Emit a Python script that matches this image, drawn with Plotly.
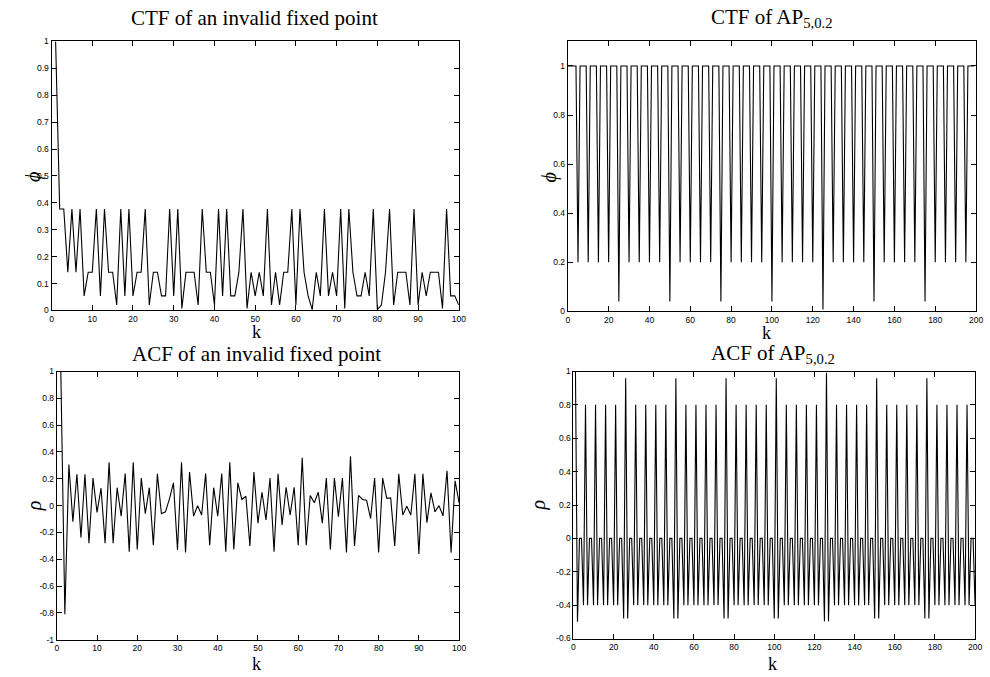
import plotly.graph_objects as go

W, H = 990, 677

# ---------------- data ----------------
# CTF of an invalid fixed point, k = 1..100
ctf_fp_k = list(range(1, 101))
ctf_fp = [
    1.0, 0.377, 0.377, 0.142, 0.377, 0.142, 0.377, 0.054, 0.142, 0.142,
    0.377, 0.054, 0.377, 0.142, 0.142, 0.020, 0.377, 0.054, 0.377, 0.054,
    0.142, 0.142, 0.377, 0.020, 0.142, 0.142, 0.054, 0.054, 0.377, 0.054,
    0.377, 0.0076, 0.142, 0.142, 0.142, 0.020, 0.377, 0.142, 0.142, 0.020,
    0.377, 0.054, 0.377, 0.054, 0.054, 0.142, 0.377, 0.0076, 0.142, 0.054,
    0.142, 0.054, 0.377, 0.020, 0.142, 0.020, 0.142, 0.142, 0.377, 0.020,
    0.377, 0.142, 0.054, 0.003, 0.142, 0.054, 0.377, 0.054, 0.142, 0.054,
    0.377, 0.0076, 0.377, 0.142, 0.054, 0.054, 0.142, 0.054, 0.377, 0.003,
    0.020, 0.142, 0.377, 0.020, 0.142, 0.142, 0.142, 0.020, 0.377, 0.020,
    0.142, 0.054, 0.142, 0.142, 0.142, 0.0076, 0.377, 0.054, 0.054, 0.020,
]

# ACF of an invalid fixed point, k = 1..100
acf_fp_k = list(range(1, 101))
acf_fp = [
    1.0, -0.81, 0.307, -0.12, 0.234, -0.237, 0.234, -0.28, 0.205, -0.05,
    0.13, -0.28, 0.324, -0.28, 0.134, -0.078, 0.24, -0.344, 0.324, -0.327,
    0.205, -0.06, 0.134, -0.295, 0.237, -0.06, -0.046, 0.05, 0.17, -0.33,
    0.324, -0.35, 0.25, -0.078, 0.0, -0.07, 0.24, -0.295, 0.134, -0.078,
    0.24, -0.344, 0.324, -0.327, 0.17, 0.046, 0.07, -0.30, 0.25, -0.13,
    0.10, -0.107, 0.205, -0.344, 0.237, -0.144, 0.137, -0.07, 0.137, -0.295,
    0.356, -0.295, 0.076, 0.022, 0.10, -0.13, 0.205, -0.327, 0.205, -0.083,
    0.205, -0.35, 0.368, -0.30, 0.076, 0.046, 0.04, -0.095, 0.205, -0.35,
    0.205, 0.056, 0.056, -0.30, 0.237, -0.07, -0.005, -0.07, 0.237, -0.36,
    0.237, -0.127, 0.095, -0.046, 0.0, -0.076, 0.26, -0.35, 0.185, 0.02,
]

# CTF of AP_{5,0.2}, k = 0..199
ctf_ap_k = list(range(0, 200))
ctf_ap = [
    1, 1, 1, 1, 1, 0.2, 1, 1, 1, 1, 0.2, 1, 1, 1, 1, 0.2, 1, 1, 1, 1, 0.2, 1, 1, 1, 1,
    0.04, 1, 1, 1, 1, 0.2, 1, 1, 1, 1, 0.2, 1, 1, 1, 1, 0.2, 1, 1, 1, 1, 0.2, 1, 1, 1, 1,
    0.04, 1, 1, 1, 1, 0.2, 1, 1, 1, 1, 0.2, 1, 1, 1, 1, 0.2, 1, 1, 1, 1, 0.2, 1, 1, 1, 1,
    0.04, 1, 1, 1, 1, 0.2, 1, 1, 1, 1, 0.2, 1, 1, 1, 1, 0.2, 1, 1, 1, 1, 0.2, 1, 1, 1, 1,
    0.04, 1, 1, 1, 1, 0.2, 1, 1, 1, 1, 0.2, 1, 1, 1, 1, 0.2, 1, 1, 1, 1, 0.2, 1, 1, 1, 1,
    0.008, 1, 1, 1, 1, 0.2, 1, 1, 1, 1, 0.2, 1, 1, 1, 1, 0.2, 1, 1, 1, 1, 0.2, 1, 1, 1, 1,
    0.04, 1, 1, 1, 1, 0.2, 1, 1, 1, 1, 0.2, 1, 1, 1, 1, 0.2, 1, 1, 1, 1, 0.2, 1, 1, 1, 1,
    0.04, 1, 1, 1, 1, 0.2, 1, 1, 1, 1, 0.2, 1, 1, 1, 1, 0.2, 1, 1, 1, 1, 0.2, 1, 1, 1, 1,
]

# ACF of AP_{5,0.2}, k = 1..200
acf_ap_k = list(range(1, 201))
acf_ap = [
    1.0, -0.5, 0, 0, -0.4, 0.8, -0.4, 0, 0, -0.4, 0.8, -0.4, 0, 0, -0.4, 0.8, -0.4, 0, 0, -0.4, 0.8, -0.4, 0, 0, -0.48,
    0.96, -0.48, 0, 0, -0.4, 0.8, -0.4, 0, 0, -0.4, 0.8, -0.4, 0, 0, -0.4, 0.8, -0.4, 0, 0, -0.4, 0.8, -0.4, 0, 0, -0.48,
    0.96, -0.48, 0, 0, -0.4, 0.8, -0.4, 0, 0, -0.4, 0.8, -0.4, 0, 0, -0.4, 0.8, -0.4, 0, 0, -0.4, 0.8, -0.4, 0, 0, -0.48,
    0.96, -0.48, 0, 0, -0.4, 0.8, -0.4, 0, 0, -0.4, 0.8, -0.4, 0, 0, -0.4, 0.8, -0.4, 0, 0, -0.4, 0.8, -0.4, 0, 0, -0.48,
    0.96, -0.48, 0, 0, -0.4, 0.8, -0.4, 0, 0, -0.4, 0.8, -0.4, 0, 0, -0.4, 0.8, -0.4, 0, 0, -0.4, 0.8, -0.4, 0, 0, -0.496,
    0.992, -0.496, 0, 0, -0.4, 0.8, -0.4, 0, 0, -0.4, 0.8, -0.4, 0, 0, -0.4, 0.8, -0.4, 0, 0, -0.4, 0.8, -0.4, 0, 0, -0.48,
    0.96, -0.48, 0, 0, -0.4, 0.8, -0.4, 0, 0, -0.4, 0.8, -0.4, 0, 0, -0.4, 0.8, -0.4, 0, 0, -0.4, 0.8, -0.4, 0, 0, -0.48,
    0.96, -0.48, 0, 0, -0.4, 0.8, -0.4, 0, 0, -0.4, 0.8, -0.4, 0, 0, -0.4, 0.8, -0.4, 0, 0, -0.4, 0.8, -0.4, 0, 0, -0.4,
]

titles = ["CTF of an invalid fixed point", "CTF of AP<sub>5,0.2</sub>",
          "ACF of an invalid fixed point", "ACF of AP<sub>5,0.2</sub>"]

# ---------------- layout helpers ----------------
def px_x(a, b):
    return [a / W, b / W]

def px_y(top, bottom):
    return [1 - bottom / H, 1 - top / H]

panels = [
    dict(x=ctf_fp_k, y=ctf_fp, xd=(50, 461), yd=(37, 310), xr=[0, 100], yr=[0, 1],
         xdt=10, ytv=[0, 0.1, 0.2, 0.3, 0.4, 0.5, 0.6, 0.7, 0.8, 0.9, 1],
         ylab="ϕ", ylx=32, yly=175, title_xy=(255, 13), klab=(257, 332)),
    dict(x=ctf_ap_k, y=ctf_ap, xd=(571, 983), yd=(37, 311), xr=[0, 200], yr=[0, 1.1],
         xdt=20, ytv=[0, 0.2, 0.4, 0.6, 0.8, 1],
         ylab="ϕ", ylx=552, yly=175, title_xy=(777, 13), klab=(772, 333)),
    dict(x=acf_fp_k, y=acf_fp, xd=(55.3, 461.3), yd=(372, 644.3), xr=[0, 100], yr=[-1, 1],
         xdt=10, ytv=[-1, -0.8, -0.6, -0.4, -0.2, 0, 0.2, 0.4, 0.6, 0.8, 1],
         ylab="ρ", ylx=33, yly=508, title_xy=(257, 354), klab=(257, 669)),
    dict(x=acf_ap_k, y=acf_ap, xd=(576.7, 982), yd=(372, 643), xr=[0, 200], yr=[-0.6, 1],
         xdt=20, ytv=[-0.6, -0.4, -0.2, 0, 0.2, 0.4, 0.6, 0.8, 1],
         ylab="ρ", ylx=541, yly=508, title_xy=(778, 354), klab=(778, 669)),
]

tickfont = dict(family="Liberation Sans, Arial, sans-serif", size=8.5, color="black")
serif = "Liberation Serif, Times New Roman, serif"

fig = go.Figure()
annotations = []
layout = dict(width=W, height=H, margin=dict(l=0, r=0, t=0, b=0),
              paper_bgcolor="white", plot_bgcolor="white", showlegend=False)

for i, p in enumerate(panels, start=1):
    xa = "xaxis" if i == 1 else f"xaxis{i}"
    ya = "yaxis" if i == 1 else f"yaxis{i}"
    xref = "x" if i == 1 else f"x{i}"
    yref = "y" if i == 1 else f"y{i}"
    fig.add_trace(go.Scatter(x=p["x"], y=p["y"], mode="lines",
                             line=dict(color="black", width=1.1),
                             xaxis=xref, yaxis=yref, hoverinfo="skip"))
    layout[xa] = dict(domain=px_x(*p["xd"]), range=p["xr"], anchor=yref,
                      tickmode="linear", tick0=0, dtick=p["xdt"],
                      ticks="inside", ticklen=5, tickcolor="black", tickwidth=1,
                      mirror="allticks", showline=True, linecolor="black", linewidth=1,
                      showgrid=False, zeroline=False, tickfont=tickfont)
    layout[ya] = dict(domain=px_y(*p["yd"]), range=p["yr"], anchor=xref,
                      tickmode="array", tickvals=p["ytv"],
                      ticktext=[("%g" % v) for v in p["ytv"]],
                      ticks="inside", ticklen=5, tickcolor="black", tickwidth=1,
                      mirror="allticks", showline=True, linecolor="black", linewidth=1,
                      showgrid=False, zeroline=False, tickfont=tickfont)
    tx, ty = p["title_xy"]
    annotations.append(dict(text=titles[i - 1], x=tx / W, y=1 - ty / H, xref="paper", yref="paper",
                            showarrow=False, xanchor="center", yanchor="middle",
                            font=dict(family=serif, size=21, color="black")))
    kx, ky = p["klab"]
    annotations.append(dict(text="k", x=kx / W, y=1 - ky / H, xref="paper", yref="paper",
                            showarrow=False, xanchor="center", yanchor="middle",
                            font=dict(family=serif, size=18, color="black")))
    annotations.append(dict(text="<i>" + p["ylab"] + "</i>", x=p["ylx"] / W, y=1 - p["yly"] / H,
                            xref="paper", yref="paper", textangle=-90,
                            showarrow=False, xanchor="center", yanchor="middle",
                            font=dict(family=serif, size=20, color="black")))

layout["annotations"] = annotations
fig.update_layout(**layout)
fig.write_html("out.html")
